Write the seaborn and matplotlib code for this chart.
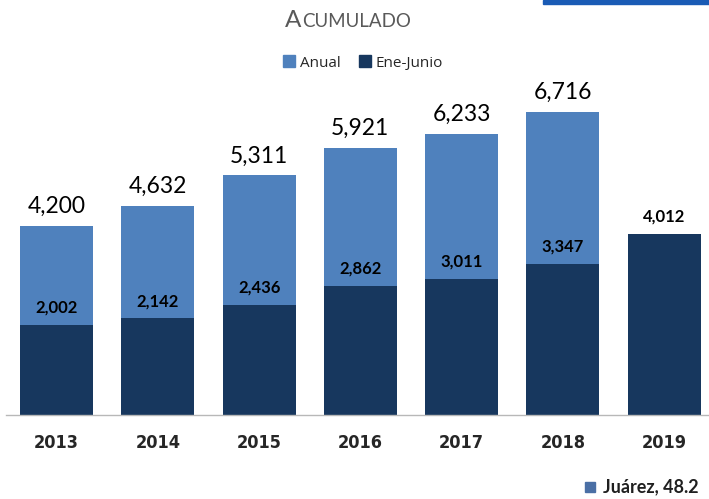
import numpy as np
import seaborn as sns
import matplotlib.pyplot as plt
from matplotlib.patches import Rectangle, Patch

# data
years = ['2013', '2014', '2015', '2016', '2017', '2018', '2019']
anual = [4200, 4632, 5311, 5921, 6233, 6716, np.nan]
ene_junio = [2002, 2142, 2436, 2862, 3011, 3347, 4012]

light_blue = '#4f81bd'
navy = '#17375e'

sns.set_style('white')
plt.rcParams['font.family'] = ['Lato', 'DejaVu Sans']

fig = plt.figure(figsize=(7.09, 4.99), dpi=100)
ax = fig.add_axes([5.85 / 709, 1 - 415 / 499, 709 / 709, 355 / 499])

sns.barplot(x=years, y=anual, order=years, color=light_blue, width=0.72,
            saturation=1, errorbar=None, linewidth=0, ax=ax)
sns.barplot(x=years, y=ene_junio, order=years, color=navy, width=0.72,
            saturation=1, errorbar=None, linewidth=0, ax=ax)

ax.set_xlim(-0.5, 6.5)
ax.set_ylim(0, 7871)
ax.set_yticks([])
ax.set_ylabel('')

# labels
for i, v in enumerate(anual):
    if not np.isnan(v):
        ax.annotate('{:,}'.format(int(v)), (i, v), xytext=(0, 14), textcoords='offset points',
                    ha='center', va='center', fontsize=16.5, color='black')
for i, v in enumerate(ene_junio):
    ax.annotate('{:,}'.format(int(v)), (i, v), xytext=(0, 12.5), textcoords='offset points',
                ha='center', va='center', fontsize=12, fontweight='bold', color='black')

for s in ['top', 'right', 'left']:
    ax.spines[s].set_visible(False)
ax.spines['bottom'].set_color('#b8b8b8')
ax.spines['bottom'].set_linewidth(1)

ax.set_xticks(range(len(years)))
ax.set_xticklabels(years, fontsize=13, fontweight='bold', fontstretch='condensed',
                   family=['DejaVu Sans'])
ax.tick_params(axis='x', which='major', length=0, pad=14)
ax.set_xticks(np.arange(-0.5, 7, 1), minor=True)
ax.tick_params(axis='x', which='minor', length=5, color='#b8b8b8', width=1)

# title in small caps
t1 = fig.text(285 / 709, 1 - 27 / 499, 'A', fontsize=17.5, color='#595959',
              ha='left', va='baseline')
fig.canvas.draw()
bb = t1.get_window_extent()
fig.text(bb.x1 / fig.bbox.width + 0.001, 1 - 27 / 499, 'CUMULADO', fontsize=13.5,
         color='#595959', ha='left', va='baseline')

# legend
handles = [Patch(color=light_blue, label='Anual'), Patch(color=navy, label='Ene-Junio')]
fig.legend(handles=handles, loc='center', bbox_to_anchor=(363 / 709, 1 - 63 / 499),
           ncol=2, frameon=False, handlelength=0.8, handleheight=0.8,
           handletextpad=0.3, columnspacing=1.2,
           prop={'family': ['Open Sans', 'DejaVu Sans'], 'size': 11})

# decorations at the edges
fig.patches.append(Rectangle((543 / 709, 1 - 4 / 499), 170 / 709, 4 / 499,
                             transform=fig.transFigure, color='#1a5bb5', zorder=5))
fig.patches.append(Rectangle((585 / 709, 1 - 492 / 499), 10 / 709, 10 / 499,
                             transform=fig.transFigure, color='#4a6fa5', zorder=5))
fig.text(603 / 709, 1 - 487 / 499, 'Juárez, 48.2', fontsize=13, fontweight='bold',
         color='#1f1f1f', ha='left', va='center')

plt.savefig('out.png', dpi=100)
